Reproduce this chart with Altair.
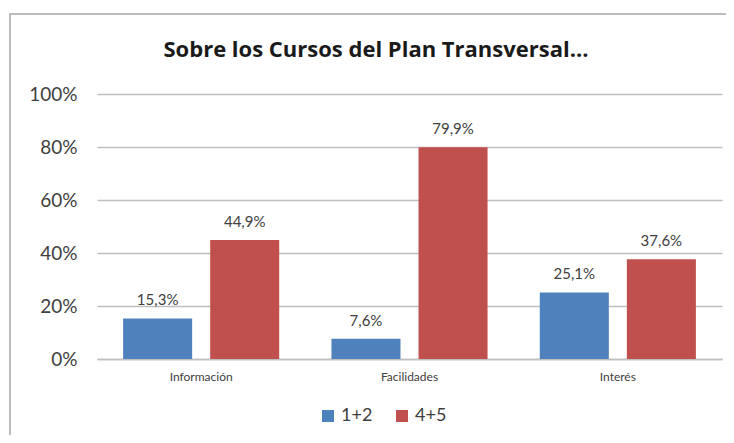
import altair as alt
import pandas as pd

title_text = "Sobre los Cursos del Plan Transversal..."
categories = ["Información", "Facilidades", "Interés"]
series = ["1+2", "4+5"]
values_12 = [0.153, 0.076, 0.251]
values_45 = [0.449, 0.799, 0.376]
colors = ["#4F81BD", "#C0504D"]

rows = []
for c, a, b in zip(categories, values_12, values_45):
    for s, v in zip(series, [a, b]):
        rows.append({"cat": c, "serie": s, "value": v,
                     "label": f"{v*100:.1f}".replace(".", ",") + "%"})
df = pd.DataFrame(rows)

FONT = "Lato"

base = alt.Chart(df).encode(
    x=alt.X("cat:N", sort=categories, title=None,
            scale=alt.Scale(paddingInner=0, paddingOuter=0),
            axis=alt.Axis(labelAngle=0, labelFontSize=12, labelColor="#404040",
                          labelFont=FONT, labelPadding=12, ticks=False,
                          domainColor="#BFBFBF", domainWidth=1.5, grid=False)),
    xOffset=alt.XOffset("serie:N", sort=series,
                        scale=alt.Scale(paddingInner=0.207, paddingOuter=0.3)),
    y=alt.Y("value:Q", title=None,
            scale=alt.Scale(domain=[0, 1], nice=False),
            axis=alt.Axis(format=".0%", values=[0, 0.2, 0.4, 0.6, 0.8, 1.0],
                          labelFontSize=19, labelColor="#404040", labelFont=FONT,
                          labelPadding=20, ticks=False, domain=False,
                          gridColor="#BFBFBF", gridWidth=1.5)),
)

bars = base.mark_bar(strokeWidth=0).encode(
    color=alt.Color("serie:N", sort=series,
                    scale=alt.Scale(domain=series, range=colors),
                    legend=alt.Legend(title=None, orient="none", legendX=222, legendY=313,
                                      direction="horizontal", symbolType="square",
                                      symbolSize=144, symbolStrokeWidth=0,
                                      labelFontSize=18, labelFont=FONT,
                                      labelColor="#404040", columnPadding=20,
                                      labelOffset=4)),
)

labels = base.mark_text(baseline="alphabetic", dy=-13, fontSize=15, font=FONT,
                        color="#404040").encode(text="label:N")

border = alt.Chart(alt.Data(values=[{}])).mark_rect(
    fillOpacity=0, stroke="#A6A6A6", strokeWidth=1.5
).encode(x=alt.value(-87), x2=alt.value(630), y=alt.value(-80), y2=alt.value(420))

title = alt.Chart(alt.Data(values=[{"t": title_text}])).mark_text(
    fontSize=22, font="Open Sans", fontWeight="bold", color="#1a1a1a",
    align="center", baseline="alphabetic"
).encode(text="t:N", x=alt.value(279), y=alt.value(-37))

chart = alt.layer(border, title, bars, labels).properties(
    width=625, height=265,
    autosize=alt.AutoSizeParams(type="none"),
    padding={"left": 89, "top": 86, "right": 4, "bottom": 76},
).configure_view(stroke=None)

chart.save("out.html", embed_options={"renderer": "svg", "actions": False})
